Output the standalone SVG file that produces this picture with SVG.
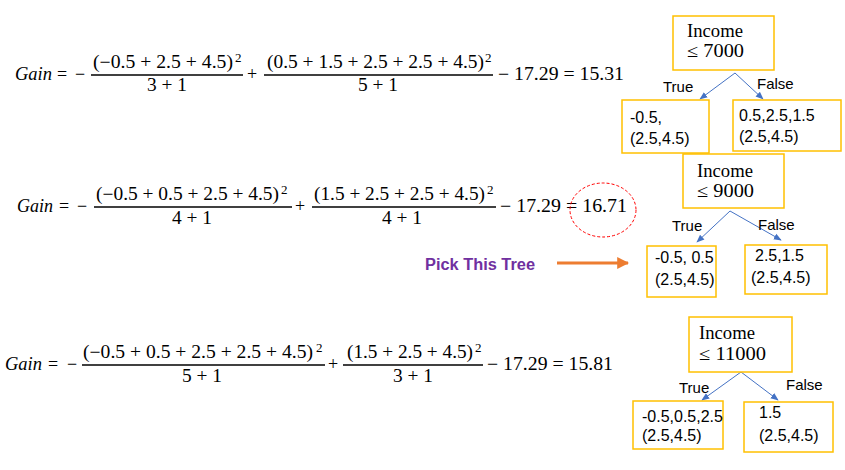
<svg xmlns="http://www.w3.org/2000/svg" width="845" height="470" viewBox="0 0 845 470">
<style>
.m{font-family:"Liberation Serif","DejaVu Serif",serif;font-size:18px;fill:#000}
.g{font-family:"Liberation Serif","DejaVu Serif",serif;font-size:19px;font-style:italic;fill:#000}
.sup{font-family:"Liberation Serif","DejaVu Serif",serif;font-size:13px;fill:#000}
.bar{stroke:#000;stroke-width:1.6}
.box{fill:#fff;stroke:#FFC000;stroke-width:1.5}
.rt{font-family:"Liberation Serif","DejaVu Serif",serif;font-size:18px;fill:#000}
.lf{font-family:"Liberation Sans","Arial",sans-serif;font-size:16px;fill:#000}
.lb{font-family:"Liberation Sans","Arial",sans-serif;font-size:15px;fill:#000}
.edge{stroke:#4472C4;stroke-width:1;fill:none}
.pick{font-family:"Liberation Sans","Arial",sans-serif;font-size:16px;font-weight:bold;fill:#7030A0}
</style>
<defs>
<marker id="ah" viewBox="0 0 10 10" refX="9" refY="5" markerWidth="8" markerHeight="8" markerUnits="userSpaceOnUse" orient="auto">
<path d="M0,1 L10,5 L0,9 Z" fill="#4472C4"/>
</marker>
<marker id="oh" viewBox="0 0 10 10" refX="9" refY="5" markerWidth="4" markerHeight="4" orient="auto">
<path d="M0,0 L10,5 L0,10 Z" fill="#ED7D31"/>
</marker>
</defs>

<g id="eq1">
<text class="g" x="15" y="80" textLength="37" lengthAdjust="spacingAndGlyphs">Gain</text>
<text class="m" x="57" y="80">=</text>
<text class="m" x="75" y="80">−</text>
<line class="bar" x1="91" y1="75" x2="243" y2="75"/>
<text class="m" x="93" y="68" textLength="140" lengthAdjust="spacingAndGlyphs">(−0.5 + 2.5 + 4.5)</text>
<text class="sup" x="235" y="62">2</text>
<text class="m" x="147" y="91" textLength="40" lengthAdjust="spacingAndGlyphs">3 + 1</text>
<text class="m" x="247" y="80">+</text>
<line class="bar" x1="264" y1="75" x2="493" y2="75"/>
<text class="m" x="267" y="68" textLength="217" lengthAdjust="spacingAndGlyphs">(0.5 + 1.5 + 2.5 + 2.5 + 4.5)</text>
<text class="sup" x="485" y="62">2</text>
<text class="m" x="358" y="91" textLength="40" lengthAdjust="spacingAndGlyphs">5 + 1</text>
<text class="m" x="498" y="80" textLength="126" lengthAdjust="spacingAndGlyphs">− 17.29 = 15.31</text>
</g>

<g id="eq2">
<text class="g" x="17" y="212" textLength="36" lengthAdjust="spacingAndGlyphs">Gain</text>
<text class="m" x="59" y="212">=</text>
<text class="m" x="77" y="212">−</text>
<line class="bar" x1="94" y1="207" x2="292" y2="207"/>
<text class="m" x="96" y="200" textLength="183" lengthAdjust="spacingAndGlyphs">(−0.5 + 0.5 + 2.5 + 4.5)</text>
<text class="sup" x="281" y="194">2</text>
<text class="m" x="172" y="224" textLength="40" lengthAdjust="spacingAndGlyphs">4 + 1</text>
<text class="m" x="295" y="212">+</text>
<line class="bar" x1="312" y1="207" x2="496" y2="207"/>
<text class="m" x="314" y="200" textLength="171" lengthAdjust="spacingAndGlyphs">(1.5 + 2.5 + 2.5 + 4.5)</text>
<text class="sup" x="487" y="194">2</text>
<text class="m" x="382" y="224" textLength="40" lengthAdjust="spacingAndGlyphs">4 + 1</text>
<text class="m" x="500" y="212" textLength="127" lengthAdjust="spacingAndGlyphs">− 17.29 = 16.71</text>
<ellipse cx="603" cy="210" rx="33" ry="27" fill="none" stroke="#FF0000" stroke-width="1" stroke-dasharray="3,2"/>
</g>

<g id="eq3">
<text class="g" x="5" y="370" textLength="37" lengthAdjust="spacingAndGlyphs">Gain</text>
<text class="m" x="48" y="370">=</text>
<text class="m" x="67" y="370">−</text>
<line class="bar" x1="82" y1="365" x2="325" y2="365"/>
<text class="m" x="83" y="358" textLength="230" lengthAdjust="spacingAndGlyphs">(−0.5 + 0.5 + 2.5 + 2.5 + 4.5)</text>
<text class="sup" x="316" y="352">2</text>
<text class="m" x="182" y="382" textLength="40" lengthAdjust="spacingAndGlyphs">5 + 1</text>
<text class="m" x="328" y="370">+</text>
<line class="bar" x1="343" y1="365" x2="483" y2="365"/>
<text class="m" x="347" y="358" textLength="126" lengthAdjust="spacingAndGlyphs">(1.5 + 2.5 + 4.5)</text>
<text class="sup" x="475" y="352">2</text>
<text class="m" x="393" y="382" textLength="40" lengthAdjust="spacingAndGlyphs">3 + 1</text>
<text class="m" x="487" y="370" textLength="126" lengthAdjust="spacingAndGlyphs">− 17.29 = 15.81</text>
</g>

<g id="pick">
<text class="pick" x="425" y="270" textLength="110" lengthAdjust="spacingAndGlyphs">Pick This Tree</text>
</g>

<g id="connectors">
<line class="edge" x1="735" y1="73" x2="700" y2="99" marker-end="url(#ah)"/>
<line class="edge" x1="735" y1="73" x2="763" y2="99" marker-end="url(#ah)"/>
<line class="edge" x1="730" y1="211" x2="697" y2="242" marker-end="url(#ah)"/>
<line class="edge" x1="730" y1="211" x2="781" y2="240" marker-end="url(#ah)"/>
<line class="edge" x1="741" y1="372" x2="702" y2="400" marker-end="url(#ah)"/>
<line class="edge" x1="741" y1="372" x2="778" y2="400" marker-end="url(#ah)"/>
<line x1="557" y1="263" x2="628" y2="263" stroke="#ED7D31" stroke-width="3" marker-end="url(#oh)"/>
<text class="lb" x="663" y="92">True</text>
<text class="lb" x="757" y="89">False</text>
<text class="lb" x="672" y="231">True</text>
<text class="lb" x="758" y="230">False</text>
<text class="lb" x="679" y="393">True</text>
<text class="lb" x="786" y="390">False</text>
</g>

<g id="root1">
<rect class="box" x="673" y="16" width="101" height="54"/>
<text class="rt" x="687" y="37" textLength="56" lengthAdjust="spacingAndGlyphs">Income</text>
<text class="rt" x="687" y="57" textLength="57" lengthAdjust="spacingAndGlyphs">≤ 7000</text>
</g>
<g id="leaf1a">
<rect class="box" x="622" y="100" width="87" height="53"/>
<text class="lf" x="630" y="123">-0.5,</text>
<text class="lf" x="630" y="144">(2.5,4.5)</text>
</g>
<g id="leaf1b">
<rect class="box" x="733" y="100" width="108" height="51"/>
<text class="lf" x="739" y="121">0.5,2.5,1.5</text>
<text class="lf" x="739" y="142">(2.5,4.5)</text>
</g>

<g id="root2">
<rect class="box" x="683" y="154" width="101" height="54"/>
<text class="rt" x="697" y="177" textLength="56" lengthAdjust="spacingAndGlyphs">Income</text>
<text class="rt" x="697" y="197" textLength="57" lengthAdjust="spacingAndGlyphs">≤ 9000</text>
</g>
<g id="leaf2a">
<rect class="box" x="647" y="246" width="69" height="51"/>
<text class="lf" x="655" y="263">-0.5, 0.5</text>
<text class="lf" x="655" y="285">(2.5,4.5)</text>
</g>
<g id="leaf2b">
<rect class="box" x="745" y="245" width="82" height="49"/>
<text class="lf" x="755" y="261">2.5,1.5</text>
<text class="lf" x="751" y="283">(2.5,4.5)</text>
</g>

<g id="root3">
<rect class="box" x="689" y="317" width="103" height="55"/>
<text class="rt" x="699" y="339" textLength="56" lengthAdjust="spacingAndGlyphs">Income</text>
<text class="rt" x="699" y="360" textLength="67" lengthAdjust="spacingAndGlyphs">≤ 11000</text>
</g>
<g id="leaf3a">
<rect class="box" x="633" y="401" width="90" height="48"/>
<text class="lf" x="642" y="422">-0.5,0.5,2.5</text>
<text class="lf" x="642" y="441">(2.5,4.5)</text>
</g>
<g id="leaf3b">
<rect class="box" x="744" y="402" width="89" height="50"/>
<text class="lf" x="759" y="418">1.5</text>
<text class="lf" x="759" y="441">(2.5,4.5)</text>
</g>
</svg>
